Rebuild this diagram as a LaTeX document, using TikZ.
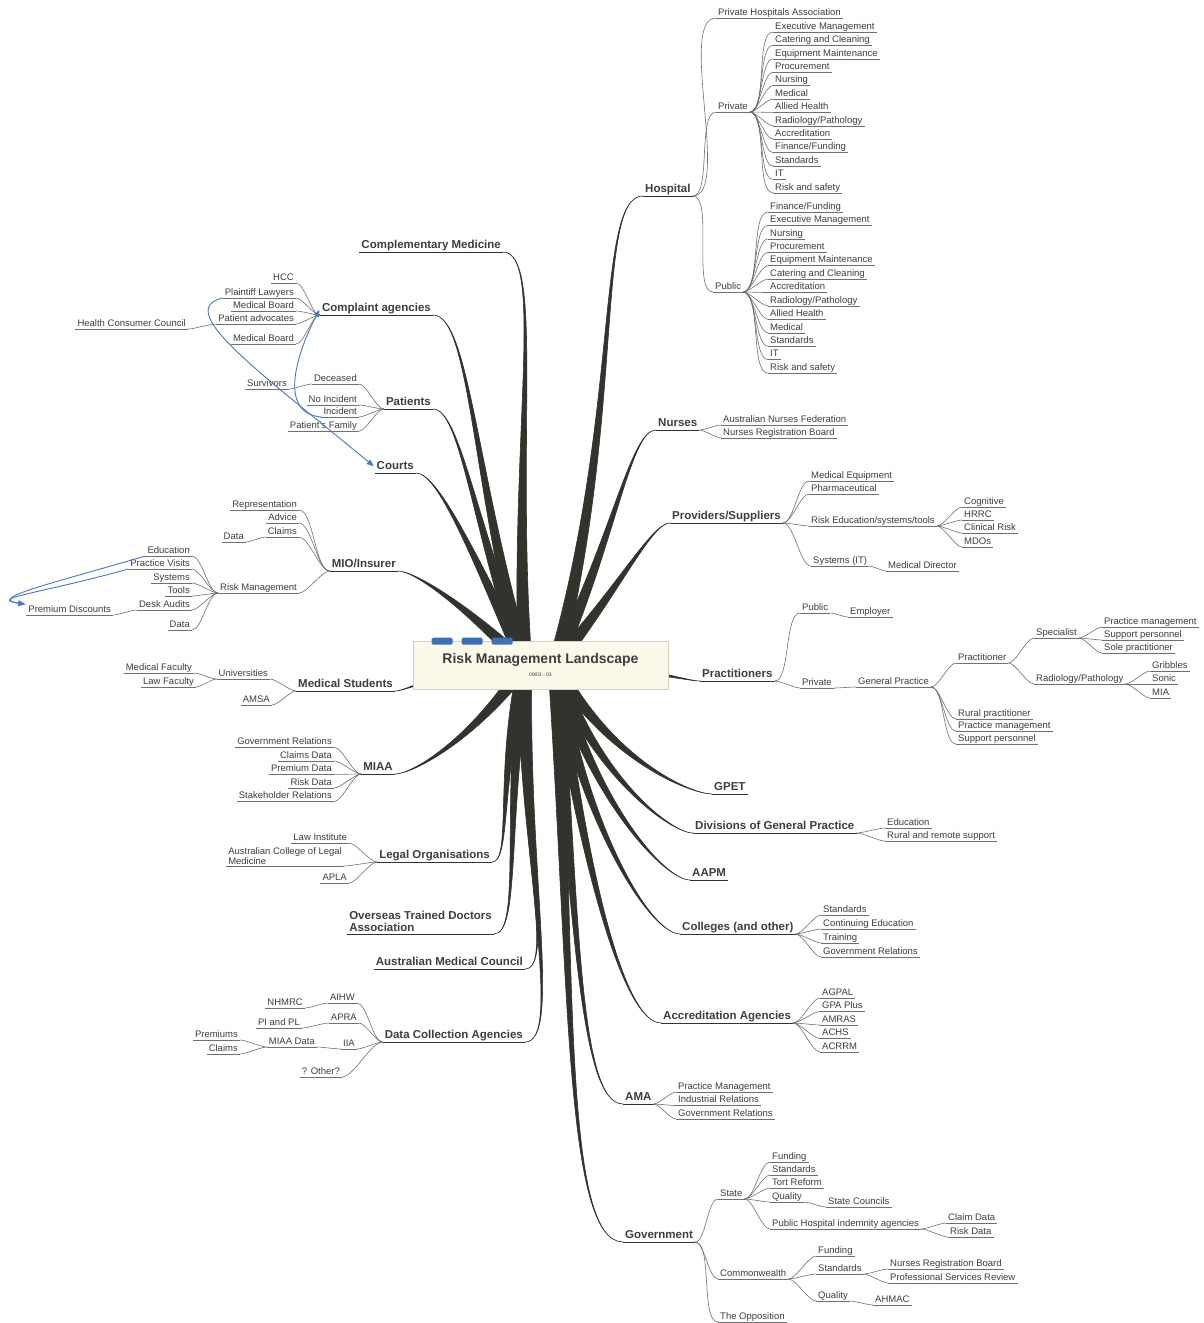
\documentclass[tikz,border=0pt]{standalone}
\usepackage{fontspec}
\setmainfont{Liberation Sans}
\usepackage{tikz}
\usetikzlibrary{arrows.meta,calc}
\usepackage{xcolor}
\definecolor{txt}{RGB}{62,62,62}
\definecolor{twiggray}{RGB}{112,112,112}
\definecolor{trunkc}{RGB}{50,51,45}
\definecolor{boxfill}{RGB}{251,249,234}
\definecolor{boxline}{RGB}{214,210,190}
\definecolor{tabblue}{RGB}{63,111,181}
\definecolor{linkblue}{RGB}{74,120,192}

% tapered main branch: hub, end, out angle, in angle
\newcommand{\mmtrunk}[4]{%
  \filldraw[trunk] let \p1=(#1), \p2=(#2), \n1={veclen(\x2-\x1,\y2-\y1)} in
    ($(\p1)+(#3+90:7pt)$) .. controls ($(\p1)+(#3:{0.55*\n1})+(#3+90:2.5pt)$) and ($(\p2)+(#4:{0.1*\n1})$) .. (\p2)
    .. controls ($(\p2)+(#4:{0.1*\n1})$) and ($(\p1)+(#3:{0.55*\n1})+(#3-90:2.5pt)$) .. ($(\p1)+(#3-90:7pt)$) -- cycle;}

\begin{document}
\begin{tikzpicture}[x=1pt,y=-1pt,
  leaf/.style={font=\fontsize{9.5}{10}\selectfont, text=txt, inner xsep=2pt, inner ysep=0.6pt,
    text height=7pt, text depth=2pt,
    append after command={(\tikzlastnode.south west) edge[uline] (\tikzlastnode.south east)}},
  topic/.style={font=\fontsize{11.5}{12}\selectfont\bfseries, text=txt, inner xsep=2pt, inner ysep=0.4pt,
    text height=8.5pt, text depth=2.6pt,
    append after command={(\tikzlastnode.south west) edge[tline] (\tikzlastnode.south east)}},
  uline/.style={draw=twiggray, line width=0.6pt},
  tline/.style={draw=trunkc, line width=0.9pt},
  twig/.style={draw=twiggray, line width=0.6pt, looseness=0.55},
  tr/.style={out=0,in=180}, tl/.style={out=180,in=0},
  rs/.style={anchor=south west}, ls/.style={anchor=south east},
  trunk/.style={fill=trunkc, draw=trunkc, line width=0.6pt, line join=round},
  link/.style={draw=linkblue, line width=0.9pt, shorten >=1pt, -{Triangle[length=7pt,width=5.5pt]}},
  rootbox/.style={draw=boxline, fill=boxfill, line width=0.6pt, minimum width=255pt, minimum height=48pt,
    align=center, text=txt}]
\useasboundingbox (0,0) rectangle (1204,1323);
\fill[white] (0,0) rectangle (1204,1323);
\coordinate (hubL) at (525,665);
\coordinate (hubR) at (555,665);

% Hospital
\node[topic,rs] (hosp) at (643,196) {Hospital};
\node[leaf,rs] (pha) at (716,18) {Private Hospitals Association};
\node[leaf,rs] (priv) at (716,112) {Private};
\node[leaf,rs] (pub) at (713,292) {Public};
\foreach \k in {pha,priv,pub} \draw[twig] (hosp.south east) to[tr] (\k.south west);
\foreach \t [count=\i] in {Executive Management,Catering and Cleaning,Equipment Maintenance,Procurement,Nursing,Medical,Allied Health,Radiology/Pathology,Accreditation,Finance/Funding,Standards,IT,Risk and safety}{
  \node[leaf,rs] (hpv\i) at (773,{18.6+13.4*\i}) {\t};
  \draw[twig] (priv.south east) to[tr] (hpv\i.south west);}
\foreach \t [count=\i] in {Finance/Funding,Executive Management,Nursing,Procurement,Equipment Maintenance,Catering and Cleaning,Accreditation,Radiology/Pathology,Allied Health,Medical,Standards,IT,Risk and safety}{
  \node[leaf,rs] (hpb\i) at (768,{198.6+13.42*\i}) {\t};
  \draw[twig] (pub.south east) to[tr] (hpb\i.south west);}

% Nurses
\node[topic,rs] (nurs) at (656,430) {Nurses};
\node[leaf,rs] (anf) at (721,425) {Australian Nurses Federation};
\node[leaf,rs] (nrb) at (721,438) {Nurses Registration Board};
\foreach \k in {anf,nrb} \draw[twig] (nurs.south east) to[tr] (\k.south west);

% Providers/Suppliers
\node[topic,rs] (prov) at (670,523) {Providers/Suppliers};
\node[leaf,rs] (meq) at (809,481) {Medical Equipment};
\node[leaf,rs] (phar) at (809,494) {Pharmaceutical};
\node[leaf,rs] (redu) at (809,526) {Risk Education/systems/tools};
\node[leaf,rs] (sysit) at (811,566) {Systems (IT)};
\node[leaf,rs] (mdir) at (886,571) {Medical Director};
\node[leaf,rs] (cogn) at (962,507) {Cognitive};
\node[leaf,rs] (hrrc) at (962,520) {HRRC};
\node[leaf,rs] (crsk) at (962,533) {Clinical Risk};
\node[leaf,rs] (mdos) at (962,547) {MDOs};
\foreach \k in {meq,phar,redu,sysit} \draw[twig] (prov.south east) to[tr] (\k.south west);
\foreach \k in {cogn,hrrc,crsk,mdos} \draw[twig] (redu.south east) to[tr] (\k.south west);
\draw[twig] (sysit.south east) to[tr] (mdir.south west);

% Practitioners
\node[topic,rs] (pract) at (700,681) {Practitioners};
\node[leaf,rs] (ppub) at (800,613) {Public};
\node[leaf,rs] (empl) at (848,617) {Employer};
\node[leaf,rs] (ppriv) at (800,688) {Private};
\node[leaf,rs] (gp) at (856,687) {General Practice};
\node[leaf,rs] (prtr) at (956,663) {Practitioner};
\node[leaf,rs] (rural) at (956,719) {Rural practitioner};
\node[leaf,rs] (gppm) at (956,731) {Practice management};
\node[leaf,rs] (gpsp) at (956,744) {Support personnel};
\node[leaf,rs] (spec) at (1034,638) {Specialist};
\node[leaf,rs] (radp) at (1034,684) {Radiology/Pathology};
\node[leaf,rs] (sppm) at (1102,627) {Practice management};
\node[leaf,rs] (spsp) at (1102,640) {Support personnel};
\node[leaf,rs] (spsl) at (1102,653) {Sole practitioner};
\node[leaf,rs] (grib) at (1150,671) {Gribbles};
\node[leaf,rs] (soni) at (1150,684) {Sonic};
\node[leaf,rs] (mia) at (1150,698) {MIA};
\foreach \k in {ppub,ppriv} \draw[twig] (pract.south east) to[tr] (\k.south west);
\draw[twig] (ppub.south east) to[tr] (empl.south west);
\draw[twig] (ppriv.south east) to[tr] (gp.south west);
\foreach \k in {prtr,rural,gppm,gpsp} \draw[twig] (gp.south east) to[tr] (\k.south west);
\foreach \k in {spec,radp} \draw[twig] (prtr.south east) to[tr] (\k.south west);
\foreach \k in {sppm,spsp,spsl} \draw[twig] (spec.south east) to[tr] (\k.south west);
\foreach \k in {grib,soni,mia} \draw[twig] (radp.south east) to[tr] (\k.south west);

% GPET, Divisions, AAPM, Colleges
\node[topic,rs] (gpet) at (712,794) {GPET};
\node[topic,rs] (divgp) at (693,833) {Divisions of General Practice};
\node[leaf,rs] (dedu) at (885,828) {Education};
\node[leaf,rs] (drrs) at (885,841) {Rural and remote support};
\foreach \k in {dedu,drrs} \draw[twig] (divgp.south east) to[tr] (\k.south west);
\node[topic,rs] (aapm) at (690,880) {AAPM};
\node[topic,rs] (coll) at (680,934) {Colleges (and other)};
\foreach \t [count=\i] in {Standards,Continuing Education,Training,Government Relations}{
  \node[leaf,rs] (col\i) at (821,{901+14*\i}) {\t};
  \draw[twig] (coll.south east) to[tr] (col\i.south west);}

% Accreditation Agencies
\node[topic,rs] (accr) at (661,1023) {Accreditation Agencies};
\foreach \t [count=\i] in {AGPAL,GPA Plus,AMRAS,ACHS,ACRRM}{
  \node[leaf,rs] (acc\i) at (820,{984.5+13.5*\i}) {\t};
  \draw[twig] (accr.south east) to[tr] (acc\i.south west);}

% AMA
\node[topic,rs] (ama) at (623,1104) {AMA};
\foreach \t [count=\i] in {Practice Management,Industrial Relations,Government Relations}{
  \node[leaf,rs] (ama\i) at (676,{1078.5+13.5*\i}) {\t};
  \draw[twig] (ama.south east) to[tr] (ama\i.south west);}

% Government
\node[topic,rs] (gov) at (623,1242) {Government};
\node[leaf,rs] (state) at (718,1199) {State};
\node[leaf,rs] (cwth) at (718,1279) {Commonwealth};
\node[leaf,rs] (oppo) at (718,1322) {The Opposition};
\foreach \k in {state,cwth,oppo} \draw[twig] (gov.south east) to[tr] (\k.south west);
\node[leaf,rs] (sfund) at (770,1162) {Funding};
\node[leaf,rs] (sstd) at (770,1175) {Standards};
\node[leaf,rs] (stort) at (770,1188) {Tort Reform};
\node[leaf,rs] (squal) at (770,1202) {Quality};
\node[leaf,rs] (sphia) at (770,1229) {Public Hospital indemnity agencies};
\foreach \k in {sfund,sstd,stort,squal,sphia} \draw[twig] (state.south east) to[tr] (\k.south west);
\node[leaf,rs] (scoun) at (826,1207) {State Councils};
\draw[twig] (squal.south east) to[tr] (scoun.south west);
\node[leaf,rs] (cdata) at (946,1223) {Claim Data};
\node[leaf,rs] (rdata) at (948,1237) {Risk Data};
\foreach \k in {cdata,rdata} \draw[twig] (sphia.south east) to[tr] (\k.south west);
\node[leaf,rs] (cfund) at (816,1256) {Funding};
\node[leaf,rs] (cstd) at (816,1274) {Standards};
\node[leaf,rs] (cqual) at (816,1301) {Quality};
\foreach \k in {cfund,cstd,cqual} \draw[twig] (cwth.south east) to[tr] (\k.south west);
\node[leaf,rs] (cnrb) at (888,1269) {Nurses Registration Board};
\node[leaf,rs] (cpsr) at (888,1283) {Professional Services Review};
\foreach \k in {cnrb,cpsr} \draw[twig] (cstd.south east) to[tr] (\k.south west);
\node[leaf,rs] (ahmac) at (873,1305) {AHMAC};
\draw[twig] (cqual.south east) to[tr] (ahmac.south west);

% Complementary Medicine, Complaint agencies
\node[topic,ls] (compl) at (503,252) {Complementary Medicine};
\node[topic,ls] (comp) at (433,315) {Complaint agencies};
\node[leaf,ls] (hcc) at (296,283) {HCC};
\node[leaf,ls] (plaw) at (296,298) {Plaintiff Lawyers};
\node[leaf,ls] (mbd1) at (296,311) {Medical Board};
\node[leaf,ls] (padv) at (296,324) {Patient advocates};
\node[leaf,ls] (mbd2) at (296,344) {Medical Board};
\node[leaf,ls] (hcons) at (188,329) {Health Consumer Council};
\foreach \k in {hcc,plaw,mbd1,padv,mbd2} \draw[twig] (comp.south west) to[tl] (\k.south east);
\draw[twig] (padv.south west) to[tl] (hcons.south east);

% Patients, Courts
\node[topic,ls] (pat) at (433,409) {Patients};
\node[leaf,ls] (dec) at (359,384) {Deceased};
\node[leaf,ls] (noinc) at (359,405) {No Incident};
\node[leaf,ls] (inc) at (359,417) {Incident};
\node[leaf,ls] (pfam) at (359,431) {Patient's Family};
\node[leaf,ls] (surv) at (289,389) {Survivors};
\foreach \k in {dec,noinc,inc,pfam} \draw[twig] (pat.south west) to[tl] (\k.south east);
\draw[twig] (dec.south west) to[tl] (surv.south east);
\node[topic,ls] (courts) at (416,473) {Courts};

% MIO/Insurer
\node[topic,ls] (mio) at (398,571) {MIO/Insurer};
\node[leaf,ls] (repr) at (299,510) {Representation};
\node[leaf,ls] (advc) at (299,523) {Advice};
\node[leaf,ls] (clms) at (299,537) {Claims};
\node[leaf,ls] (cdat) at (246,542) {Data};
\node[leaf,ls] (rmgt) at (299,593) {Risk Management};
\foreach \k in {repr,advc,clms,rmgt} \draw[twig] (mio.south west) to[tl] (\k.south east);
\draw[twig] (clms.south west) to[tl] (cdat.south east);
\node[leaf,ls] (redn) at (192,556) {Education};
\node[leaf,ls] (pvis) at (192,569) {Practice Visits};
\node[leaf,ls] (syst) at (192,583) {Systems};
\node[leaf,ls] (tool) at (192,596) {Tools};
\node[leaf,ls] (desk) at (192,610) {Desk Audits};
\node[leaf,ls] (rdat) at (192,630) {Data};
\foreach \k in {redn,pvis,syst,tool,desk,rdat} \draw[twig] (rmgt.south west) to[tl] (\k.south east);
\node[leaf,ls] (pdis) at (113,615) {Premium Discounts};
\draw[twig] (desk.south west) to[tl] (pdis.south east);

% Medical Students
\node[topic,ls] (medst) at (395,691) {Medical Students};
\node[leaf,ls] (univ) at (270,679) {Universities};
\node[leaf,ls] (amsa) at (272,705) {AMSA};
\node[leaf,ls] (mfac) at (194,673) {Medical Faculty};
\node[leaf,ls] (lfac) at (196,687) {Law Faculty};
\foreach \k in {univ,amsa} \draw[twig] (medst.south west) to[tl] (\k.south east);
\foreach \k in {mfac,lfac} \draw[twig] (univ.south west) to[tl] (\k.south east);

% MIAA
\node[topic,ls] (miaa) at (395,774) {MIAA};
\foreach \t [count=\i] in {Government Relations,Claims Data,Premium Data,Risk Data,Stakeholder Relations}{
  \node[leaf,ls] (mia\i) at (334,{733.6+13.6*\i}) {\t};
  \draw[twig] (miaa.south west) to[tl] (mia\i.south east);}

% Legal, OTDA, AMC
\node[topic,ls] (legal) at (492,862) {Legal Organisations};
\node[leaf,ls] (lins) at (349,843) {Law Institute};
\node[leaf,ls,align=left,text height=,text depth=,inner ysep=1.5pt] (acml) at (344,866) {Australian College of Legal\\Medicine};
\node[leaf,ls] (apla) at (349,883) {APLA};
\foreach \k in {lins,acml,apla} \draw[twig] (legal.south west) to[tl] (\k.south east);
\node[topic,ls,align=left,text height=,text depth=,inner ysep=2pt] (otda) at (494,934) {Overseas Trained Doctors\\Association};
\node[topic,ls] (amc) at (525,969) {Australian Medical Council};

% Data Collection Agencies
\node[topic,ls] (dca) at (525,1042) {Data Collection Agencies};
\node[leaf,ls] (aihw) at (357,1003) {AIHW};
\node[leaf,ls] (apra) at (359,1023) {APRA};
\node[leaf,ls] (iia) at (357,1049) {IIA};
\node[leaf,ls] (othr) at (342,1077) {? Other?};
\foreach \k in {aihw,apra,iia,othr} \draw[twig] (dca.south west) to[tl] (\k.south east);
\node[leaf,ls] (nhmr) at (305,1008) {NHMRC};
\node[leaf,ls] (pipl) at (302,1028) {PI and PL};
\node[leaf,ls] (miad) at (317,1047) {MIAA Data};
\node[leaf,ls] (prem) at (240,1040) {Premiums};
\node[leaf,ls] (clm3) at (240,1054) {Claims};
\draw[twig] (aihw.south west) to[tl] (nhmr.south east);
\draw[twig] (apra.south west) to[tl] (pipl.south east);
\draw[twig] (iia.south west) to[tl] (miad.south east);
\foreach \k in {prem,clm3} \draw[twig] (miad.south west) to[tl] (\k.south east);

% main branches
\foreach \b/\a in {hosp/75,nurs/65,prov/50,pract/0,gpet/300,divgp/290,aapm/285,coll/280,accr/278,ama/275,gov/273}{
  \mmtrunk{hubR}{\b.south west}{\a}{180}}
\foreach \b/\a in {compl/93,comp/105,pat/110,courts/115,mio/135,medst/180,miaa/235,legal/255,otda/262,amc/268,dca/270}{
  \mmtrunk{hubL}{\b.south east}{\a}{0}}

% blue links
\draw[link] (inc.south west) .. controls +(-45,-4) and +(-22,42) .. (comp.west);
\draw[link] (plaw.south west) .. controls +(-50,12) and +(-115,-95) .. (courts.west);
\draw[link] (redn.south west) .. controls +(-95,28) and +(-40,-6) .. (pdis.north west);
\draw[link] (pvis.south west) .. controls +(-85,24) and +(-40,-6) .. (pdis.north west);

% central topic
\node[rootbox] (root) at (540.5,665) {\fontsize{14}{16}\selectfont\bfseries Risk Management Landscape\\[1pt]\fontsize{5}{6}\selectfont 09/03 - 03};
\foreach \dx in {19,49,79}
  \fill[tabblue, rounded corners=1.5pt] ($(root.north west)+(\dx,-3)$) rectangle +(21,7);
\end{tikzpicture}
\end{document}
